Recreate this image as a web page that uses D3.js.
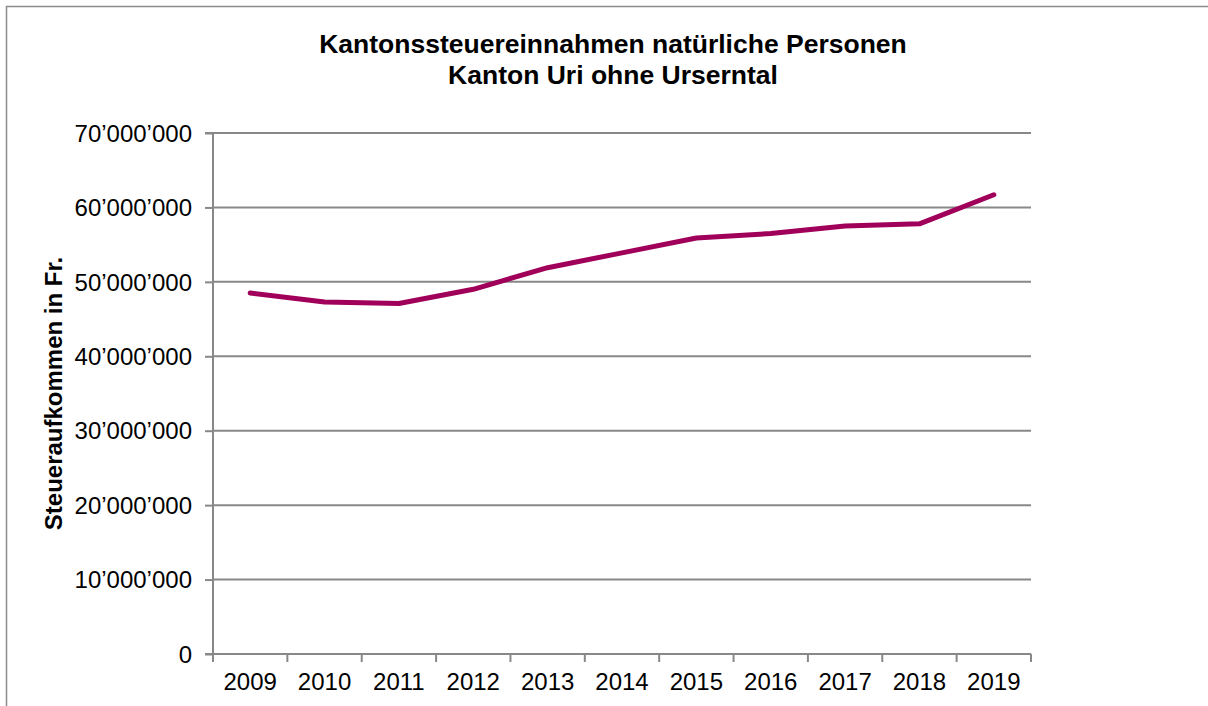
<!DOCTYPE html>
<html><head><meta charset="utf-8">
<script src="https://cdn.jsdelivr.net/npm/d3@7"></script>
<style>html,body{margin:0;padding:0;background:#fff;}svg{display:block;font-family:"Liberation Sans",Arial,sans-serif;}</style>
</head><body>
<svg id="c" width="1208" height="706"></svg>
<script>
const years = ["2009","2010","2011","2012","2013","2014","2015","2016","2017","2018","2019"];
const values = [48500000,47300000,47100000,49000000,51900000,53900000,55900000,56500000,57500000,57800000,61700000];
const yTicks = [0,10000000,20000000,30000000,40000000,50000000,60000000,70000000];
const titleLines = ["Kantonssteuereinnahmen natürliche Personen","Kanton Uri ohne Urserntal"];
const yTitle = "Steueraufkommen in Fr.";

const svg = d3.select("#c");
svg.append("rect").attr("x",6.5).attr("y",6.5).attr("width",1210).attr("height",710)
  .attr("fill","#fff").attr("stroke","#8c8c8c").attr("stroke-width",1.5);

const L=213, R=1031, T=133, B=654;
const x = d3.scaleBand().domain(years).range([L,R]).padding(0);
const y = d3.scaleLinear().domain([0,70000000]).range([B,T]);
const loc = d3.formatLocale({decimal:".",thousands:"\u2019",grouping:[3],currency:["",""]});
const fmt = loc.format(",");

// gridlines
svg.append("g").selectAll("line").data(yTicks.filter(d=>d>0)).join("line")
  .attr("x1",L).attr("x2",R).attr("y1",d=>y(d)).attr("y2",d=>y(d))
  .attr("stroke","#888").attr("stroke-width",2);

// y axis
const ya = svg.append("g").attr("transform",`translate(${L},0)`)
  .call(d3.axisLeft(y).tickValues(yTicks).tickFormat(fmt).tickSize(8).tickPadding(13));
ya.select(".domain").attr("stroke","#888").attr("stroke-width",2).attr("d",`M-8,${T}H0V${B}`);
ya.selectAll(".tick line").attr("stroke","#888").attr("stroke-width",2);
ya.selectAll("text").attr("font-size",24).attr("fill","#000").attr("dy","0.34em").attr("font-family","Liberation Sans, Arial, sans-serif");

// x axis
const xa = svg.append("g").attr("transform",`translate(0,${B})`);
xa.append("line").attr("x1",L-8).attr("x2",R).attr("y1",0).attr("y2",0).attr("stroke","#888").attr("stroke-width",2);
const bounds = years.map(d=>x(d)).concat([x(years[years.length-1])+x.bandwidth()]);
xa.selectAll("line.t").data(bounds).join("line").attr("class","t")
  .attr("x1",d=>d).attr("x2",d=>d).attr("y1",0).attr("y2",8).attr("stroke","#888").attr("stroke-width",2);
xa.selectAll("text").data(years).join("text")
  .attr("x",d=>x(d)+x.bandwidth()/2).attr("y",36).attr("text-anchor","middle")
  .attr("font-size",24).attr("fill","#000").text(d=>d);

// line
const line = d3.line().x((d,i)=>x(years[i])+x.bandwidth()/2).y(d=>y(d));
svg.append("path").datum(values).attr("d",line).attr("fill","none")
  .attr("stroke","#A0005A").attr("stroke-width",5).attr("stroke-linecap","round").attr("stroke-linejoin","round");

// title
svg.append("g").selectAll("text").data(titleLines).join("text")
  .attr("x",613).attr("y",(d,i)=>53+i*31).attr("text-anchor","middle")
  .attr("font-size",26.5).attr("font-weight","bold").attr("fill","#000").text(d=>d);

// y title
svg.append("text").attr("transform",`translate(62,${(T+B)/2}) rotate(-90)`)
  .attr("text-anchor","middle").attr("font-size",24).attr("font-weight","bold").attr("fill","#000").text(yTitle);
</script>
</body></html>
